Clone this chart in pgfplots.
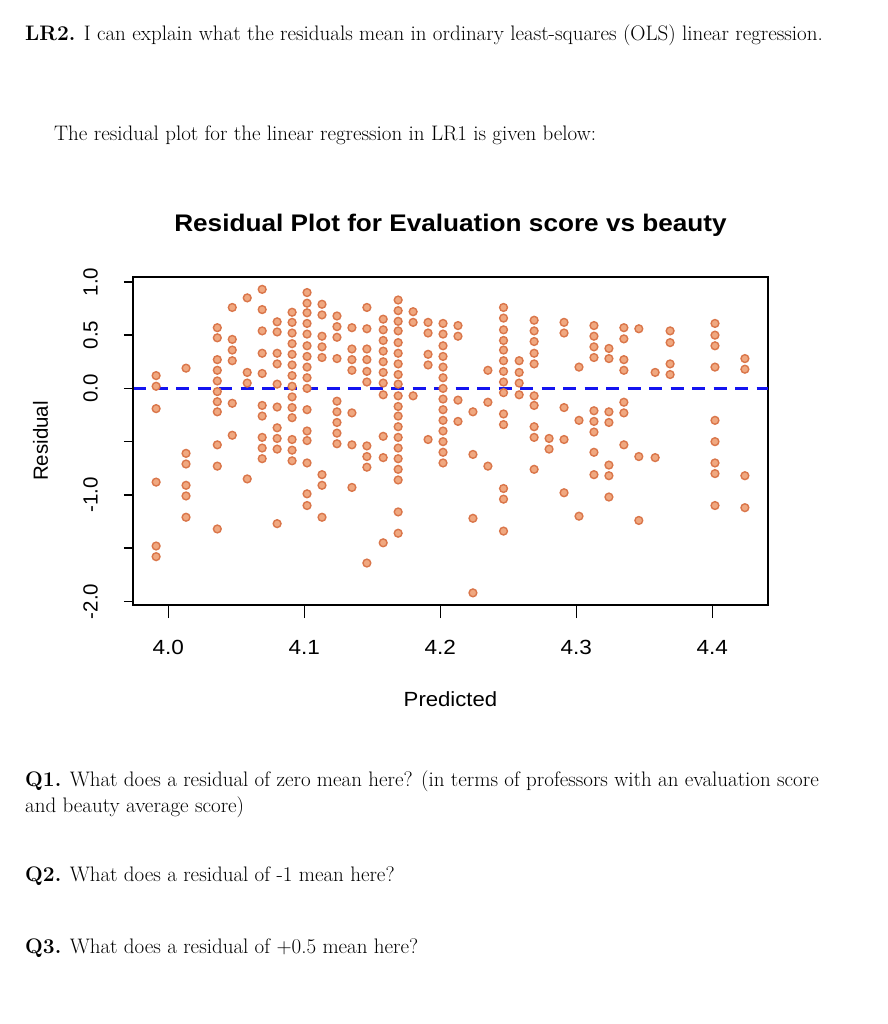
\documentclass[border=0pt]{standalone}
\usepackage{fontspec}
\usepackage{pgfplots}
\usepackage{pgfplotstable}
\pgfplotsset{compat=1.18}
\newfontfamily\chartfont{Liberation Sans}
\definecolor{ptedge}{RGB}{218,118,74}
\definecolor{ptfill}{RGB}{240,168,128}
\definecolor{dashblue}{RGB}{20,20,240}

\pgfplotstableread{
x y
3.991 0.12
3.991 0.02
3.991 -0.19
3.991 -0.88
3.991 -1.48
3.991 -1.58
4.013 0.19
4.013 -0.61
4.013 -0.71
4.013 -0.91
4.013 -1.01
4.013 -1.21
4.036 0.57
4.036 0.475
4.036 0.27
4.036 0.17
4.036 0.07
4.036 -0.03
4.036 -0.125
4.036 -0.22
4.036 -0.53
4.036 -0.73
4.036 -1.32
4.047 0.76
4.047 0.46
4.047 0.36
4.047 0.26
4.047 -0.14
4.047 -0.44
4.058 0.85
4.058 0.15
4.058 0.05
4.058 -0.85
4.069 0.93
4.069 0.74
4.069 0.54
4.069 0.33
4.069 0.14
4.069 -0.16
4.069 -0.26
4.069 -0.46
4.069 -0.56
4.069 -0.66
4.080 0.625
4.080 0.53
4.080 0.33
4.080 0.23
4.080 0.04
4.080 -0.175
4.080 -0.37
4.080 -0.47
4.080 -0.57
4.080 -1.27
4.091 0.715
4.091 0.62
4.091 0.52
4.091 0.42
4.091 0.32
4.091 0.22
4.091 0.12
4.091 0.02
4.091 -0.08
4.091 -0.18
4.091 -0.275
4.091 -0.48
4.091 -0.58
4.091 -0.68
4.102 0.90
4.102 0.80
4.102 0.71
4.102 0.61
4.102 0.51
4.102 0.40
4.102 0.30
4.102 0.20
4.102 0.10
4.102 0.0
4.102 -0.20
4.102 -0.40
4.102 -0.49
4.102 -0.70
4.102 -0.99
4.102 -1.10
4.113 0.79
4.113 0.69
4.113 0.49
4.113 0.39
4.113 0.29
4.113 -0.81
4.113 -0.91
4.113 -1.21
4.124 0.68
4.124 0.58
4.124 0.48
4.124 0.28
4.124 -0.12
4.124 -0.22
4.124 -0.32
4.124 -0.42
4.124 -0.52
4.135 0.57
4.135 0.37
4.135 0.27
4.135 0.17
4.135 -0.23
4.135 -0.53
4.135 -0.93
4.146 0.76
4.146 0.56
4.146 0.37
4.146 0.27
4.146 0.16
4.146 0.06
4.146 -0.54
4.146 -0.64
4.146 -0.74
4.146 -1.64
4.158 0.65
4.158 0.55
4.158 0.45
4.158 0.35
4.158 0.25
4.158 0.15
4.158 0.05
4.158 -0.06
4.158 -0.45
4.158 -0.65
4.158 -1.45
4.169 0.83
4.169 0.73
4.169 0.63
4.169 0.54
4.169 0.43
4.169 0.33
4.169 0.23
4.169 0.13
4.169 0.04
4.169 -0.07
4.169 -0.17
4.169 -0.26
4.169 -0.36
4.169 -0.46
4.169 -0.56
4.169 -0.66
4.169 -0.76
4.169 -0.86
4.169 -1.16
4.169 -1.36
4.180 0.72
4.180 0.62
4.180 -0.07
4.191 0.62
4.191 0.52
4.191 0.32
4.191 0.22
4.191 -0.48
4.202 0.61
4.202 0.51
4.202 0.40
4.202 0.30
4.202 0.20
4.202 0.10
4.202 0.0
4.202 -0.10
4.202 -0.20
4.202 -0.30
4.202 -0.40
4.202 -0.50
4.202 -0.60
4.202 -0.70
4.213 0.59
4.213 0.49
4.213 -0.11
4.213 -0.31
4.224 -0.22
4.224 -0.62
4.224 -1.22
4.224 -1.92
4.235 0.17
4.235 -0.13
4.235 -0.73
4.2465 0.76
4.2465 0.66
4.2465 0.55
4.2465 0.45
4.2465 0.36
4.2465 0.26
4.2465 0.16
4.2465 0.06
4.2465 -0.04
4.2465 -0.24
4.2465 -0.34
4.2465 -0.94
4.2465 -1.04
4.2465 -1.34
4.258 0.26
4.258 0.15
4.258 0.05
4.258 -0.06
4.269 0.64
4.269 0.54
4.269 0.44
4.269 0.33
4.269 0.23
4.269 -0.07
4.269 -0.16
4.269 -0.36
4.269 -0.46
4.269 -0.76
4.280 -0.47
4.280 -0.57
4.291 0.62
4.291 0.52
4.291 -0.18
4.291 -0.48
4.291 -0.98
4.302 0.20
4.302 -0.30
4.302 -1.20
4.313 0.59
4.313 0.49
4.313 0.39
4.313 0.29
4.313 -0.21
4.313 -0.31
4.313 -0.41
4.313 -0.60
4.313 -0.81
4.324 0.375
4.324 0.28
4.324 -0.22
4.324 -0.32
4.324 -0.72
4.324 -0.82
4.324 -1.02
4.335 0.57
4.335 0.465
4.335 0.27
4.335 0.17
4.335 -0.13
4.335 -0.23
4.335 -0.53
4.346 0.56
4.346 -0.64
4.346 -1.24
4.358 0.15
4.358 -0.65
4.369 0.54
4.369 0.43
4.369 0.23
4.369 0.13
4.402 0.61
4.402 0.50
4.402 0.40
4.402 0.20
4.402 -0.30
4.402 -0.50
4.402 -0.70
4.402 -0.80
4.402 -1.10
4.424 0.28
4.424 0.18
4.424 -0.82
4.424 -1.12
}\residuals

\begin{document}
\begin{tikzpicture}[x=1pt,y=1pt]
\path[use as bounding box, fill=white] (0pt,0pt) rectangle (887pt,-1024pt);
\node[anchor=base west, inner sep=0] at (25pt,-41pt) {\fontsize{21}{25}\selectfont\textbf{LR2.} I can explain what the residuals mean in ordinary least-squares (OLS) linear regression.};
\node[anchor=base west, inner sep=0] at (54pt,-141pt) {\fontsize{21}{25}\selectfont The residual plot for the linear regression in LR1 is given below:};
\node[anchor=base west, inner sep=0] at (25pt,-786pt) {\fontsize{21}{25}\selectfont\textbf{Q1.} What does a residual of zero mean here? (in terms of professors with an evaluation score};
\node[anchor=base west, inner sep=0] at (25pt,-812pt) {\fontsize{21}{25}\selectfont and beauty average score)};
\node[anchor=base west, inner sep=0] at (25pt,-881pt) {\fontsize{21}{25}\selectfont\textbf{Q2.} What does a residual of -1 mean here?};
\node[anchor=base west, inner sep=0] at (25pt,-953pt) {\fontsize{21}{25}\selectfont\textbf{Q3.} What does a residual of +0.5 mean here?};
\begin{axis}[
  at={(133pt,-605pt)}, anchor=south west,
  width=635pt, height=328pt, scale only axis,
  xmin=3.974, xmax=4.441, ymin=-2.034, ymax=1.046,
  axis line style={line width=1.3pt},
  tick align=outside,
  tick pos=left,
  tick style={black, line width=1.3pt},
  xtick={4.0,4.1,4.2,4.3,4.4},
  xticklabels={4.0,4.1,4.2,4.3,4.4},
  ytick={-2,-1.5,-1,-0.5,0,0.5,1},
  yticklabels={-2.0,,-1.0,,0.0,0.5,1.0},
  xtick style={/pgfplots/major tick length=13pt},
  ytick style={/pgfplots/major tick length=9pt},
  /pgf/number format/assume math mode=true,
  tick label style={font=\chartfont\fontsize{20.5}{24}\selectfont},
  xticklabel style={anchor=base, xscale=1.1},
  yticklabel style={rotate=90, anchor=base},
  xticklabel shift=45pt,
  yticklabel shift=31pt,
  title={Residual Plot for Evaluation score vs beauty},
  title style={font=\chartfont\bfseries\fontsize{24}{28}\selectfont, at={(0.5,1)}, anchor=base, yshift=39pt, xscale=1.09},
  xlabel={Predicted},
  xlabel style={font=\chartfont\fontsize{20.5}{24}\selectfont, at={(0.5,0)}, anchor=base, yshift=-101pt, xscale=1.08},
  ylabel={Residual},
  ylabel style={font=\chartfont\fontsize{20.5}{24}\selectfont, at={(-0.1339,0.5)}, anchor=base},
  clip=false,
]
\addplot[only marks, mark=*, mark size=3.9pt, mark options={draw=ptedge, fill=ptfill, line width=1.4pt}] table {\residuals};
\addplot[dashblue, line width=2.6pt, dash pattern=on 13pt off 8.5pt, forget plot] coordinates {(3.974,0) (4.441,0)};
\addplot[black, line width=2.2pt, forget plot] coordinates {(4.0,-2.034) (4.4,-2.034)};
\addplot[black, line width=2.2pt, forget plot] coordinates {(3.974,-2) (3.974,1)};
\end{axis}
\end{tikzpicture}
\end{document}
